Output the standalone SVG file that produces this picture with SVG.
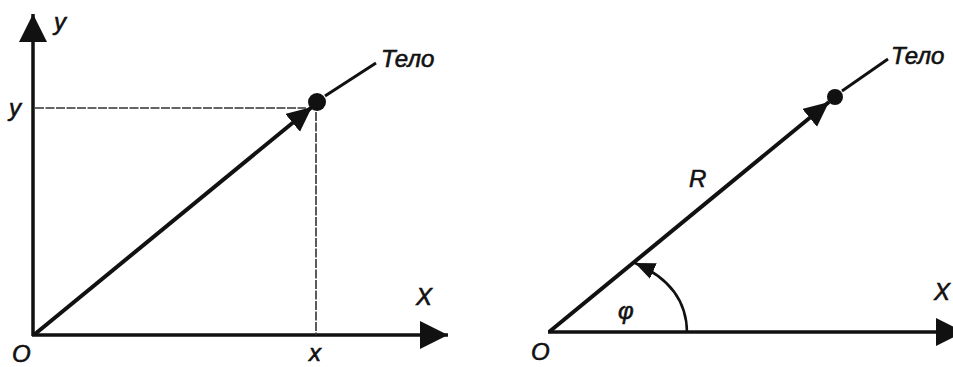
<svg xmlns="http://www.w3.org/2000/svg" width="953" height="367" viewBox="0 0 953 367">
<style>
text{font-family:"Liberation Sans",Arial,sans-serif;font-style:italic;fill:#111;stroke:#111;stroke-width:0.6;font-size:24px}
.axis{stroke:#111;stroke-width:3.5;fill:none}
.vec{stroke:#111;stroke-width:4;fill:none}
.lead{stroke:#111;stroke-width:3;fill:none}
.dash{stroke:#333;stroke-width:1.6;fill:none;stroke-dasharray:9 1.5}
.arc{stroke:#111;stroke-width:2.5;fill:none}
.dot{fill:#111}
</style>
<defs>
<marker id="axisHead" markerUnits="userSpaceOnUse" markerWidth="30" markerHeight="30" refX="28" refY="14" orient="auto"><path d="M0,0 L28,14 L0,28 z" fill="#111"/></marker>
<marker id="vecHead" markerUnits="userSpaceOnUse" markerWidth="26" markerHeight="24" refX="25" refY="11.5" orient="auto"><path d="M0,0 L25,11.5 L0,23 z" fill="#111"/></marker>
<marker id="arcHead" markerUnits="userSpaceOnUse" markerWidth="22" markerHeight="18" refX="20" refY="8.5" orient="auto"><path d="M0,0 L20,8.5 L0,17 z" fill="#111"/></marker>
</defs>
<g id="connectors">
<line class="axis" x1="33" y1="336" x2="33" y2="14" marker-end="url(#axisHead)"/>
<line class="axis" x1="32" y1="335" x2="448" y2="335" marker-end="url(#axisHead)"/>
<line class="dash" x1="35" y1="108" x2="306" y2="108"/>
<line class="dash" x1="316" y1="112" x2="316" y2="335"/>
<line class="vec" x1="35" y1="334" x2="312" y2="107" marker-end="url(#vecHead)"/>
<line class="lead" x1="325" y1="96" x2="376" y2="63"/>
<line class="axis" x1="548" y1="332" x2="964" y2="332" marker-end="url(#axisHead)"/>
<line class="vec" x1="549" y1="332" x2="829" y2="102" marker-end="url(#vecHead)"/>
<line class="lead" x1="842" y1="91" x2="888" y2="59"/>
<path class="arc" d="M687,333 C687,303 672,279 635,263" marker-end="url(#arcHead)"/>
</g>
<g id="left-body"><circle class="dot" cx="317" cy="102" r="9"/><text x="381" y="67">Тело</text></g>
<g id="left-labels">
<text x="54" y="30">y</text>
<text x="9" y="116">y</text>
<text x="416" y="305">X</text>
<text x="12" y="362">O</text>
<text x="309" y="361">x</text>
</g>
<g id="right-body"><circle class="dot" cx="835" cy="97" r="8"/><text x="891" y="64">Тело</text></g>
<g id="right-labels">
<text x="689" y="187">R</text>
<text x="618" y="319">φ</text>
<text x="531" y="360">O</text>
<text x="934" y="300">X</text>
</g>
</svg>
